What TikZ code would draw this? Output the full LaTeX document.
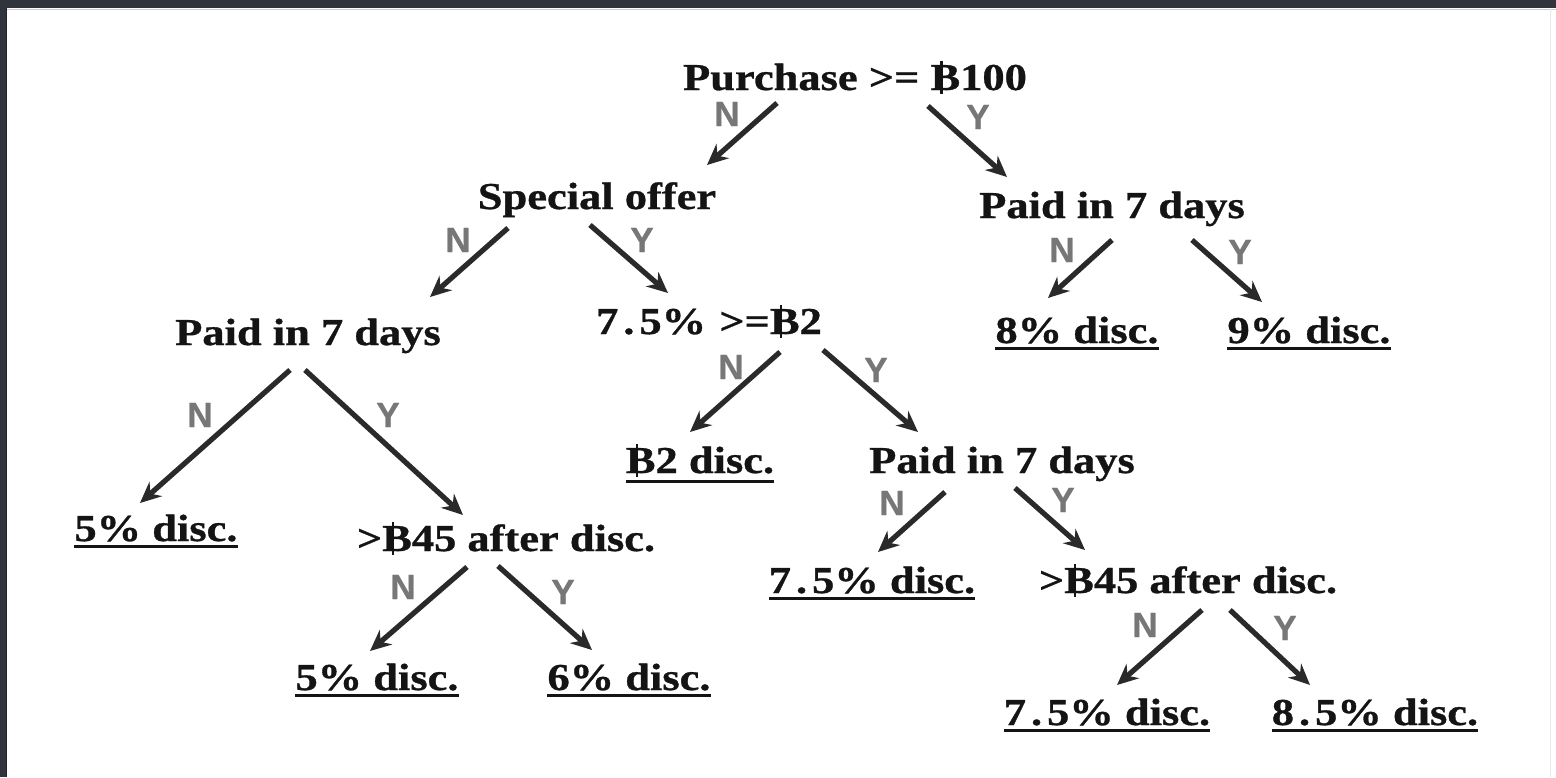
\documentclass[tikz,border=0pt]{standalone}
\usepackage{fontspec}
\setmainfont{Liberation Serif}[FakeStretch=1.17,FakeBold=0.8]
\newfontfamily\tagfont{Liberation Sans}[FakeBold=0.6]
\usetikzlibrary{arrows.meta,calc}

\definecolor{framegray}{HTML}{30353D}
\definecolor{ink}{HTML}{141414}
\definecolor{arrowink}{HTML}{2A2A2A}
\definecolor{taggray}{HTML}{777777}

% baht sign: a B crossed by a thin upright stroke
\newcommand\baht{\rlap{\kern0.26em\rule[-0.1em]{0.06em}{0.86em}}B}
% final outcome: text with a heavy rule under it
\newcommand\outcome[1]{\vtop{\hbox{#1}\kern3pt\hrule height 3pt}}
% loosely set decimal point
\newcommand\dpt{\kern5pt.\kern5pt}

\tikzset{
  test/.style={inner sep=0pt, anchor=base, text=ink,
    font=\fontsize{38}{40}\selectfont\bfseries},
  branch/.style={line width=5.2pt, draw=arrowink,
    -{Stealth[length=21pt,width=19pt,inset=7pt]}},
  tag/.style={inner sep=0pt, text=taggray,
    font=\tagfont\fontsize{35}{35}\selectfont\bfseries}
}

\begin{document}
\begin{tikzpicture}[x=1pt,y=-1pt]
\useasboundingbox (0,0) rectangle (1556,777);
\fill[white] (0,0) rectangle (1556,777);
% window frame
\fill[framegray] (0,0) rectangle (1556,8);
\fill[framegray] (0,0) rectangle (7,777);
\draw[black!85, line width=1.5pt] (6.5,8) -- (6.5,777);
\draw[black!20, line width=1pt] (7,9) -- (1556,9);
\draw[black!8, line width=1pt] (1550,9) -- (1550,777);

% decision nodes
\node[test] (root)  at (855,90)  {Purchase >= \baht100};
\node[test] (spec)  at (597,209) {Special offer};
\node[test] (paidR) at (1112,218) {Paid in 7 days};
\node[test] (paidL) at (308,345) {Paid in 7 days};
\node[test] (cond2) at (709,334) {7\dpt5\% \kern2pt>=\baht2};
\node[test] (paidM) at (1002,473) {Paid in 7 days};
\node[test] (gtL)   at (506,551) {>\baht45 after disc.};
\node[test] (gtR)   at (1188,593) {>\baht45 after disc.};

% outcomes
\node[test] (d8)   at (1077,343) {\outcome{8\% disc.}};
\node[test] (d9)   at (1309,343) {\outcome{9\% disc.}};
\node[test] (b2)   at (700,473)  {\outcome{\baht2 disc.}};
\node[test] (d5a)  at (156,541)  {\outcome{5\% disc.}};
\node[test] (d75a) at (872,593)  {\outcome{7\dpt5\% disc.}};
\node[test] (d5b)  at (377,690)  {\outcome{5\% disc.}};
\node[test] (d6)   at (629,690)  {\outcome{6\% disc.}};
\node[test] (d75b) at (1107,725) {\outcome{7\dpt5\% disc.}};
\node[test] (d85)  at (1375,725) {\outcome{8\dpt5\% disc.}};

% branches
\draw[branch] ($(root.base)+(-78,13)$)  -- ($(spec.base)+(110,-44)$);
\draw[branch] ($(root.base)+(73,16)$)   -- ($(paidR.base)+(-105,-41)$);
\draw[branch] ($(spec.base)+(-89,19)$)  -- ($(paidL.base)+(122,-48)$);
\draw[branch] ($(spec.base)+(-7,16)$)   -- ($(cond2.base)+(-41,-41)$);
\draw[branch] ($(paidR.base)+(0,22)$)   -- ($(d8.base)+(-29,-45)$);
\draw[branch] ($(paidR.base)+(80,22)$)  -- ($(d9.base)+(-47,-41)$);
\draw[branch] ($(paidL.base)+(-18,25)$) -- ($(d5a.base)+(-16,-38)$);
\draw[branch] ($(paidL.base)+(-3,25)$)  -- ($(gtL.base)+(-43,-36)$);
\draw[branch] ($(cond2.base)+(71,18)$)  -- ($(b2.base)+(-10,-41)$);
\draw[branch] ($(cond2.base)+(114,16)$) -- ($(paidM.base)+(-84,-41)$);
\draw[branch] ($(paidM.base)+(-57,19)$) -- ($(d75a.base)+(6,-41)$);
\draw[branch] ($(paidM.base)+(13,15)$)  -- ($(gtR.base)+(-103,-43)$);
\draw[branch] ($(gtL.base)+(-39,16)$)   -- ($(d5b.base)+(-7,-39)$);
\draw[branch] ($(gtL.base)+(-8,15)$)    -- ($(d6.base)+(-37,-40)$);
\draw[branch] ($(gtR.base)+(14,17)$)    -- ($(d75b.base)+(10,-40)$);
\draw[branch] ($(gtR.base)+(42,17)$)    -- ($(d85.base)+(-65,-40)$);

% branch tags
\node[tag] (rootN)  at (727,114) {N};
\node[tag] (rootY)  at (978,117) {Y};
\node[tag] (specN)  at (458,240) {N};
\node[tag] (specY)  at (642,240) {Y};
\node[tag] (paidRN) at (1062,250) {N};
\node[tag] (paidRY) at (1240,252) {Y};
\node[tag] (paidLN) at (200,415) {N};
\node[tag] (paidLY) at (388,415) {Y};
\node[tag] (cond2N) at (731,367) {N};
\node[tag] (cond2Y) at (876,370) {Y};
\node[tag] (paidMN) at (892,503) {N};
\node[tag] (paidMY) at (1063,500) {Y};
\node[tag] (gtLN)   at (403,587) {N};
\node[tag] (gtLY)   at (563,592) {Y};
\node[tag] (gtRN)   at (1145,625) {N};
\node[tag] (gtRY)   at (1285,628) {Y};
\end{tikzpicture}
\end{document}
